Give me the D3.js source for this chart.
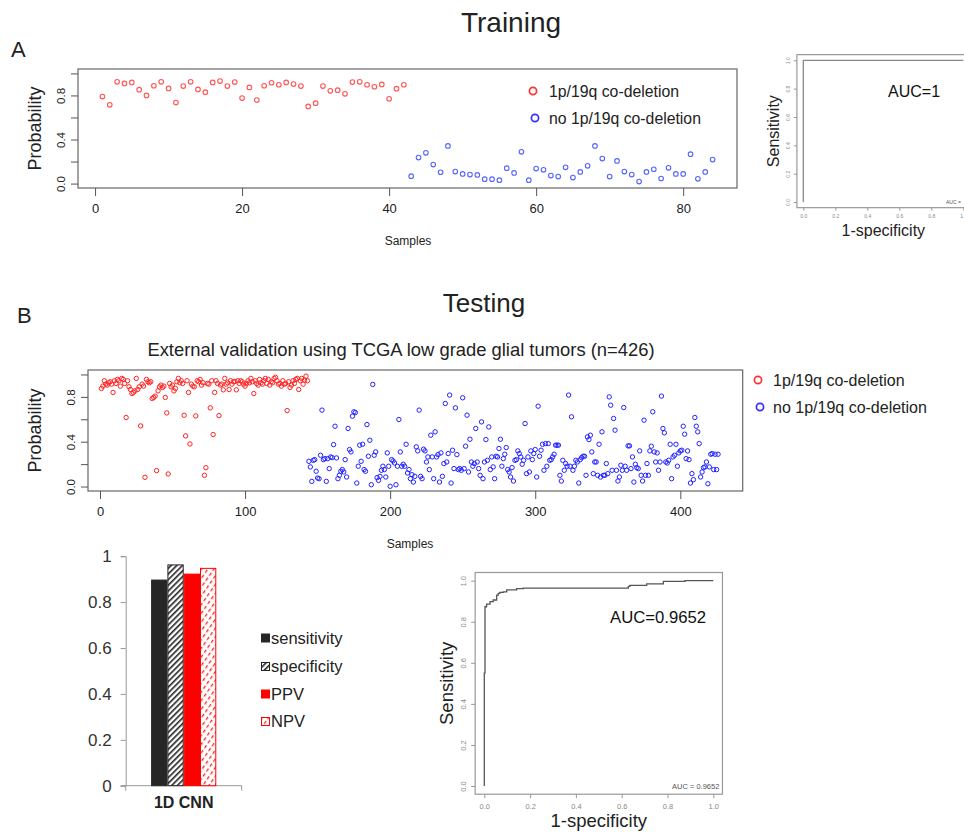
<!DOCTYPE html>
<html>
<head>
<meta charset="utf-8">
<script src="https://cdn.jsdelivr.net/npm/d3@7"></script>
<style>
  body { margin: 0; background: #fff; }
  svg { display: block; font-family: "Liberation Sans", Arial, sans-serif; }
</style>
</head>
<body>
<svg id="fig" width="964" height="832"></svg>
<script>
// ---- data ----
const trainCodel = [0.79,0.715,0.924,0.909,0.918,0.852,0.80,0.888,0.924,0.864,
  0.736,0.885,0.924,0.855,0.83,0.918,0.93,0.885,0.921,0.776,
  0.873,0.758,0.888,0.915,0.897,0.918,0.903,0.885,0.70,0.73,
  0.885,0.842,0.848,0.815,0.921,0.924,0.897,0.879,0.90,0.77,0.861,0.897];
const trainNoCodel = [0.067,0.236,0.279,0.173,0.103,0.342,0.109,0.088,0.082,0.079,
  0.04,0.04,0.031,0.14,0.097,0.288,0.031,0.136,0.125,0.073,
  0.064,0.148,0.055,0.106,0.161,0.342,0.227,0.064,0.206,0.109,
  0.082,0.018,0.106,0.13,0.046,0.143,0.088,0.088,0.267,0.043,0.106,0.218];

const testCodel = [0.875,0.896,0.944,0.914,0.905,0.926,0.935,0.914,0.84,0.944,
  0.92,0.956,0.944,0.896,0.965,0.956,0.92,0.616,0.944,0.89,
  0.866,0.83,0.84,0.854,0.965,0.866,0.89,0.541,0.914,0.896,
  0.082,0.956,0.935,0.926,0.935,0.786,0.795,0.807,0.142,0.854,
  0.89,0.905,0.884,0.896,0.795,0.657,0.112,0.92,0.89,0.905,
  0.854,0.875,0.935,0.965,0.926,0.944,0.92,0.636,0.452,0.944,
  0.84,0.38,0.914,0.896,0.89,0.63,0.944,0.935,0.956,0.905,
  0.926,0.1,0.168,0.92,0.914,0.702,0.944,0.464,0.84,0.944,
  0.92,0.633,0.905,0.914,0.863,0.965,0.914,0.926,0.866,0.944,
  0.914,0.935,0.938,0.863,0.944,0.92,0.944,0.935,0.914,0.896,
  0.92,0.944,0.926,0.965,0.935,0.83,0.944,0.92,0.905,0.956,
  0.926,0.914,0.944,0.965,0.92,0.956,0.905,0.935,0.926,0.965,
  0.975,0.944,0.914,0.92,0.896,0.944,0.914,0.92,0.678,0.935,
  0.884,0.905,0.944,0.92,0.956,0.965,0.866,0.944,0.965,0.914,
  0.95,0.985,0.944];
const testNoCodel = [0.225,0.175,0.046,0.234,0.24,0.136,0.076,0.07,0.279,0.682,
  0.24,0.249,0.046,0.249,0.16,0.264,0.258,0.374,0.538,0.255,
  0.07,0.1,0.136,0.151,0.13,0.24,0.085,0.518,0.33,0.309,
  0.628,0.667,0.66,0.031,0.181,0.369,0.225,0.377,0.151,0.136,
  0.553,0.27,0.413,0.016,0.911,0.279,0.309,0.079,0.055,0.091,
  0.145,0.181,0.151,0.085,0.3,0.181,0.002,0.24,0.228,0.21,
  0.016,0.181,0.598,0.309,0.181,0.199,0.181,0.377,0.121,0.151,
  0.07,0.106,0.04,0.091,0.354,0.318,0.682,0.091,0.07,0.333,
  0.318,0.219,0.264,0.151,0.458,0.264,0.07,0.488,0.264,0.285,
  0.04,0.3,0.091,0.205,0.741,0.219,0.294,0.816,0.031,0.324,
  0.16,0.702,0.285,0.151,0.16,0.145,0.792,0.16,0.36,0.637,
  0.13,0.422,0.219,0.181,0.205,0.518,0.219,0.16,0.1,0.577,
  0.07,0.219,0.419,0.234,0.532,0.151,0.264,0.175,0.07,0.27,
  0.264,0.339,0.422,0.181,0.249,0.288,0.348,0.151,0.13,0.085,
  0.169,0.049,0.234,0.24,0.318,0.294,0.264,0.199,0.234,0.562,
  0.115,
  0.264,0.13,0.318,0.24,0.294,0.33,0.085,0.717,0.27,0.324,
  0.377,0.145,0.383,0.181,0.383,0.234,0.24,0.264,0.288,0.369,
  0.369,0.369,0.1,0.049,0.234,0.145,0.205,0.181,0.816,0.181,
  0.622,0.145,0.181,0.234,0.219,0.031,0.24,0.258,0.27,0.27,
  0.1,0.443,0.419,0.458,0.309,0.115,0.219,0.219,0.1,0.377,
  0.085,0.488,0.1,0.1,0.205,0.115,0.8,0.726,0.145,0.607,
  0.503,0.145,0.049,0.085,0.19,0.145,0.705,0.181,0.145,0.363,
  0.363,0.16,0.264,0.04,0.199,0.169,0.16,0.318,0.1,0.049,
  0.592,0.1,0.205,0.1,0.318,0.36,0.667,0.309,0.219,0.3,
  0.145,0.219,0.807,0.518,0.479,0.219,0.21,0.234,0.377,0.07,
  0.264,0.279,0.377,0.181,0.3,0.318,0.324,0.538,0.467,0.249,
  0.318,0.24,0.031,0.115,0.061,0.616,0.538,0.488,0.383,0.085,
  0.13,0.169,0.175,0.219,0.025,0.175,0.288,0.294,0.151,0.288,
  0.151,0.288];

const metrics = ["sensitivity", "specificity", "PPV", "NPV"];
const metricValues = [0.896, 0.962, 0.922, 0.947];
const modelName = "1D CNN";

const trainRocFpr = [0, 0, 1];
const trainRocTpr = [0, 1, 1];
const testRocFpr = [0, 0, 0.003, 0.003, 0.010, 0.025, 0.039, 0.054, 0.061, 0.068,
  0.083, 0.098, 0.141, 0.170, 0.199, 0.629, 0.636, 0.709, 0.782, 0.876, 1.0];
const testRocTpr = [0, 0.55, 0.55, 0.865, 0.873, 0.886, 0.898, 0.906, 0.930, 0.938,
  0.943, 0.946, 0.955, 0.961, 0.964, 0.964, 0.972, 0.977, 0.985, 0.997, 1.0];

const legendLabels = ["1p/19q co-deletion", "no 1p/19q co-deletion"];

const svg = d3.select("#fig");
const ink = "#222";

// ---- headings ----
svg.append("text").attr("x", 511).attr("y", 32).attr("text-anchor", "middle")
  .attr("font-size", 28).attr("fill", ink).text("Training");
svg.append("text").attr("x", 11).attr("y", 57).attr("font-size", 22).attr("fill", ink).text("A");
svg.append("text").attr("x", 484).attr("y", 312).attr("text-anchor", "middle")
  .attr("font-size", 26).attr("fill", ink).text("Testing");
svg.append("text").attr("x", 17).attr("y", 323).attr("font-size", 22).attr("fill", ink).text("B");
svg.append("text").attr("x", 401).attr("y", 356).attr("text-anchor", "middle")
  .attr("font-size", 18.4).attr("fill", ink)
  .text("External validation using TCGA low grade glial tumors (n=426)");

// R-style scatter of sample probabilities
function scatterPanel(opt) {
  const pos = opt.codel.map((v, i) => ({ i: i + 1, v: v, c: 0 }))
    .concat(opt.nocodel.map((v, i) => ({ i: opt.codel.length + i + 1, v: v, c: 1 })));
  const x = d3.scaleLinear().domain([opt.x0, opt.x1]).range([opt.left, opt.right]);
  const y = d3.scaleLinear().domain([-0.04, 1.04]).range([opt.bottom, opt.top]);
  const g = svg.append("g");

  g.append("rect").attr("x", opt.left).attr("y", opt.top)
    .attr("width", opt.right - opt.left).attr("height", opt.bottom - opt.top)
    .attr("fill", "none").attr("stroke", "#666").attr("stroke-width", 1.2);

  const yAxis = g.append("g").attr("transform", `translate(${opt.left},0)`)
    .call(d3.axisLeft(y).tickValues([0, 0.2, 0.4, 0.6, 0.8, 1.0]).tickSize(7)
      .tickFormat(d => [0, 0.4, 0.8].includes(d) ? d.toFixed(1) : ""));
  yAxis.select(".domain").remove();
  yAxis.selectAll("line").attr("stroke", "#555");
  yAxis.selectAll(".tick text")
    .attr("font-size", 11.5).attr("fill", ink)
    .attr("text-anchor", "middle")
    .attr("transform", "translate(-13,0) rotate(-90)")
    .attr("x", 0).attr("y", 0).attr("dy", 0);

  const xAxis = g.append("g").attr("transform", `translate(0,${opt.bottom})`)
    .call(d3.axisBottom(x).tickValues(opt.xticks).tickSize(8).tickPadding(8));
  xAxis.select(".domain").remove();
  xAxis.selectAll("line").attr("stroke", "#555");
  xAxis.selectAll("text").attr("font-size", 13).attr("fill", ink);

  g.append("text").attr("x", opt.sampX).attr("y", opt.bottom + 57)
    .attr("text-anchor", "middle").attr("font-size", 12).attr("fill", ink).text("Samples");
  g.append("text").attr("transform", `translate(35,${(opt.top + opt.bottom) / 2}) rotate(-90)`)
    .attr("dy", "0.35em")
    .attr("text-anchor", "middle").attr("font-size", 18).attr("fill", ink).text("Probability");

  g.append("g").selectAll("circle").data(pos).join("circle")
    .attr("cx", d => x(d.i)).attr("cy", d => y(d.v)).attr("r", opt.r)
    .attr("fill", "none").attr("stroke-width", opt.sw)
    .attr("stroke", d => d.c === 0 ? opt.red : opt.blue);

  const lg = g.append("g");
  legendLabels.forEach((t, k) => {
    const ly = opt.legY[k];
    lg.append("circle").attr("cx", opt.legX[k]).attr("cy", ly).attr("r", 3.6)
      .attr("fill", "none").attr("stroke-width", 1.7)
      .attr("stroke", k === 0 ? "#f33" : "#33f");
    lg.append("text").attr("x", opt.legTextX).attr("y", ly).attr("dy", "0.36em")
      .attr("font-size", opt.legSize).attr("fill", ink).text(t);
  });
}

scatterPanel({
  codel: trainCodel, nocodel: trainNoCodel,
  x0: -2.32, x1: 87.32, left: 78, right: 737, top: 69, bottom: 188, sampX: 408,
  xticks: [0, 20, 40, 60, 80], r: 2.3, sw: 1.1, red: "#f55", blue: "#56f",
  legX: [533, 535], legY: [91, 118], legTextX: 549, legSize: 15.8
});

scatterPanel({
  codel: testCodel, nocodel: testNoCodel,
  x0: -8.27, x1: 443, left: 88, right: 742.7, top: 370, bottom: 491, sampX: 410,
  xticks: [0, 100, 200, 300, 400], r: 2.2, sw: 1, red: "#f22", blue: "#22f",
  legX: [758, 760], legY: [380, 407], legTextX: 773, legSize: 16
});

// ROC panel (pROC style)
function rocPanel(opt) {
  const x = d3.scaleLinear().domain([0, 1]).range([opt.x0, opt.x1]);
  const y = d3.scaleLinear().domain([0, 1]).range([opt.y0, opt.y1]);
  const g = svg.append("g");
  const bl = x(-0.04), br = x(1.04), bt = y(1.04), bb = y(-0.04);
  g.append("rect").attr("x", bl).attr("y", bt).attr("width", br - bl).attr("height", bb - bt)
    .attr("fill", "none").attr("stroke", "#999").attr("stroke-width", 1.2);

  const ticks = [0, 0.2, 0.4, 0.6, 0.8, 1.0];
  const xa = g.append("g").attr("transform", `translate(0,${bb})`)
    .call(d3.axisBottom(x).tickValues(ticks).tickSize(opt.tl).tickPadding(opt.tp).tickFormat(d3.format(".1f")));
  xa.select(".domain").remove();
  xa.selectAll("line").attr("stroke", "#999");
  xa.selectAll("text").attr("font-size", opt.tf).attr("fill", "#888");
  const ya = g.append("g").attr("transform", `translate(${bl},0)`)
    .call(d3.axisLeft(y).tickValues(ticks).tickSize(opt.tl).tickFormat(d3.format(".1f")));
  ya.select(".domain").remove();
  ya.selectAll("line").attr("stroke", "#999");
  ya.selectAll("text").attr("font-size", opt.tf).attr("fill", "#888")
    .attr("text-anchor", "middle").attr("dy", 0)
    .attr("transform", `translate(${-opt.tl - opt.tp},0) rotate(-90)`).attr("x", 0).attr("y", 0);

  const line = d3.line().x(d => x(d[0])).y(d => y(d[1])).curve(d3.curveStepBefore);
  g.append("path").datum(opt.fpr.map((f, k) => [f, opt.tpr[k]]))
    .attr("d", line).attr("fill", "none").attr("stroke", opt.lineColor).attr("stroke-width", 1.3);

  g.append("text").attr("x", opt.aucX).attr("y", opt.aucY).attr("font-size", opt.aucSize)
    .attr("fill", "#111").text(opt.auc);
  g.append("text").attr("x", opt.smallX).attr("y", y(0)).attr("dy", "0.35em")
    .attr("font-size", opt.tf).attr("fill", "#555").text(opt.aucSmall);
  g.append("text").attr("x", (opt.x0 + opt.x1) / 2).attr("y", opt.xlabY).attr("text-anchor", "middle")
    .attr("font-size", opt.labSize).attr("fill", ink).text("1-specificity");
  g.append("text").attr("transform", `translate(${opt.ylabX},${(opt.y0 + opt.y1) / 2}) rotate(-90)`)
    .attr("text-anchor", "middle").attr("font-size", opt.labSize).attr("fill", ink).text("Sensitivity");
}

rocPanel({
  fpr: trainRocFpr, tpr: trainRocTpr, x0: 803.3, x1: 963.3, y0: 202, y1: 60.3,
  tl: 3, tp: 4, tf: 5, lineColor: "#888", auc: "AUC=1", aucX: 888, aucY: 97, aucSize: 16,
  aucSmall: "AUC =", smallX: 946, xlabY: 236, ylabX: 779, labSize: 16
});

rocPanel({
  fpr: testRocFpr, tpr: testRocTpr, x0: 484.3, x1: 713.3, y0: 786, y1: 580.7,
  tl: 4, tp: 5, tf: 7.5, lineColor: "#555", auc: "AUC=0.9652", aucX: 610, aucY: 623, aucSize: 16.7,
  aucSmall: "AUC =  0.9652", smallX: 672, xlabY: 827, ylabX: 453, labSize: 18.5
});

// ---- bar chart ----
const defs = svg.append("defs");
const hatch = defs.append("pattern").attr("id", "hatchBlack").attr("patternUnits", "userSpaceOnUse")
  .attr("width", 4).attr("height", 4).attr("patternTransform", "rotate(45)");
hatch.append("rect").attr("width", 4).attr("height", 4).attr("fill", "#fff");
hatch.append("rect").attr("width", 1.6).attr("height", 4).attr("fill", "#222");
const hatchR = defs.append("pattern").attr("id", "hatchRed").attr("patternUnits", "userSpaceOnUse")
  .attr("width", 5).attr("height", 6).attr("patternTransform", "rotate(35)");
hatchR.append("rect").attr("width", 5).attr("height", 6).attr("fill", "#fff");
hatchR.append("rect").attr("x", 1).attr("width", 1.3).attr("height", 3.5).attr("fill", "#f22");

const barFill = ["#262626", "url(#hatchBlack)", "#f00", "url(#hatchRed)"];
const barStroke = ["#262626", "#222", "#f00", "#f00"];

const by = d3.scaleLinear().domain([0, 1]).range([785.7, 556.2]);
const bx0 = d3.scaleBand().domain([modelName]).range([125.7, 241.7]).paddingOuter(0.39);
const bx1 = d3.scaleBand().domain(metrics).range([0, bx0.bandwidth()]);

const bg = svg.append("g");
const bya = bg.append("g").attr("transform", "translate(125.7,0)")
  .call(d3.axisLeft(by).tickValues([0, 0.2, 0.4, 0.6, 0.8, 1]).tickSize(5).tickPadding(9)
    .tickFormat(d => d === 0 || d === 1 ? String(d) : d.toFixed(1)));
bya.select(".domain").attr("stroke", "#999");
bya.selectAll("line").attr("stroke", "#999");
bya.selectAll("text").attr("font-size", 17).attr("fill", "#333");

const bxa = bg.append("g").attr("transform", "translate(0,785.7)");
bxa.append("line").attr("x1", 120.7).attr("x2", 241.7).attr("stroke", "#999");
bxa.selectAll("line.t").data(bx0.range()).join("line").attr("class", "t")
  .attr("x1", d => d).attr("x2", d => d).attr("y1", 0).attr("y2", 5).attr("stroke", "#999");
bxa.append("text").attr("x", bx0(modelName) + bx0.bandwidth() / 2).attr("y", 22)
  .attr("text-anchor", "middle").attr("font-size", 16).attr("font-weight", "bold")
  .attr("fill", "#222").text(modelName);

bg.append("g").selectAll("rect").data(metrics).join("rect")
  .attr("x", m => bx0(modelName) + bx1(m) + 0.5)
  .attr("width", bx1.bandwidth() - 1)
  .attr("y", (m, k) => by(metricValues[k]))
  .attr("height", (m, k) => by(0) - by(metricValues[k]))
  .attr("fill", (m, k) => barFill[k]).attr("stroke", (m, k) => barStroke[k]).attr("stroke-width", 1);

const legY = [638, 666.5, 694, 721.5];
const bl = bg.append("g");
metrics.forEach((m, k) => {
  bl.append("rect").attr("x", 261.5).attr("y", legY[k] - 4).attr("width", 8).attr("height", 8)
    .attr("fill", barFill[k]).attr("stroke", barStroke[k]).attr("stroke-width", 1);
  bl.append("text").attr("x", 271).attr("y", legY[k]).attr("dy", "0.36em")
    .attr("font-size", 16.5).attr("fill", "#222").text(m);
});
</script>
</body>
</html>
